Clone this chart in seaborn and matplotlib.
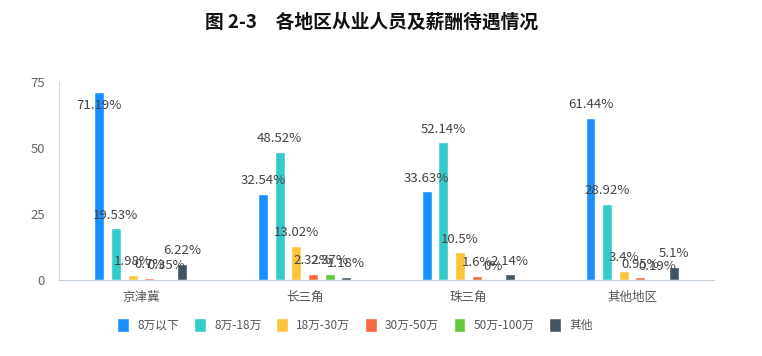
import matplotlib
matplotlib.use("Agg")
import matplotlib.pyplot as plt
import pandas as pd
import seaborn as sns

regions = ["京津冀", "长三角", "珠三角", "其他地区"]
salary_levels = ["8万以下", "8万-18万", "18万-30万", "30万-50万", "50万-100万", "其他"]
below_8 = [71.19, 32.54, 33.63, 61.44]
from_8_to_18 = [19.53, 48.52, 52.14, 28.92]
from_18_to_30 = [1.98, 13.02, 10.5, 3.4]
from_30_to_50 = [0.7, 2.32, 1.6, 0.95]
from_50_to_100 = [0.35, 2.37, 0, 0.19]
other = [6.22, 1.18, 2.14, 5.1]
colors = ["#1890FF", "#36CBCB", "#FBC53A", "#F6693E", "#63C83A", "#435560"]

series = [below_8, from_8_to_18, from_18_to_30, from_30_to_50, from_50_to_100, other]
df = pd.DataFrame([(r, lvl, v) for lvl, vals in zip(salary_levels, series)
                   for r, v in zip(regions, vals)],
                  columns=["region", "level", "value"])

sns.set_style("white")
plt.rcParams["font.family"] = ["Noto Sans CJK SC", "DejaVu Sans"]

fig = plt.figure(figsize=(7.62, 3.56), dpi=100)
ax = fig.add_axes([0.0774, 0.2135, 0.8596, 0.5562])

sns.barplot(data=df, x="region", y="value", hue="level", order=regions,
            hue_order=salary_levels, palette=colors, width=0.61, gap=0.4,
            saturation=1, ax=ax, legend=True)

ax.set_ylim(0, 75)
ax.set_xlim(-0.5, 3.5)
ax.set_yticks([0, 25, 50, 75])
ax.set_xlabel("")
ax.set_ylabel("")

# value labels, same style as the source (some overlap, as in the original)
for cont, vals in zip(ax.containers, series):
    for bar, v in zip(cont, vals):
        off = -9.5 if v > 70 else 9.5
        ax.annotate(f"{v:g}%", (bar.get_x() + bar.get_width() / 2, v),
                    xytext=(0, off), textcoords="offset points",
                    ha="center", va="center", fontsize=9.5, color="#444444")

# axes styling
for s in ["top", "right"]:
    ax.spines[s].set_visible(False)
ax.spines["left"].set_color("#d9d9d9")
ax.spines["bottom"].set_color("#c5cedb")
ax.tick_params(axis="y", length=0, pad=10, labelsize=9.5, labelcolor="#666666")
ax.tick_params(axis="x", length=0, pad=8, labelsize=9, labelcolor="#555555")
ax.set_xticks([-0.5, 0.5, 1.5, 2.5, 3.5], minor=True)
ax.tick_params(axis="x", which="minor", length=7, width=0.8, color="#d9d9d9")

# legend under the chart
handles, labels = ax.get_legend_handles_labels()
ax.legend_.remove()
fig.legend(handles, labels, loc="center", bbox_to_anchor=(0.466, 0.087), ncol=6,
           frameon=False, fontsize=8.5, labelcolor="#555555", handlelength=1.0,
           handleheight=1.4, handletextpad=0.7, columnspacing=1.25)

fig.text(0.488, 0.938, "图 2-3　各地区从业人员及薪酬待遇情况", ha="center", va="center",
         fontsize=13.5, fontweight="bold", color="#111111")

fig.savefig("out.png", dpi=100)
